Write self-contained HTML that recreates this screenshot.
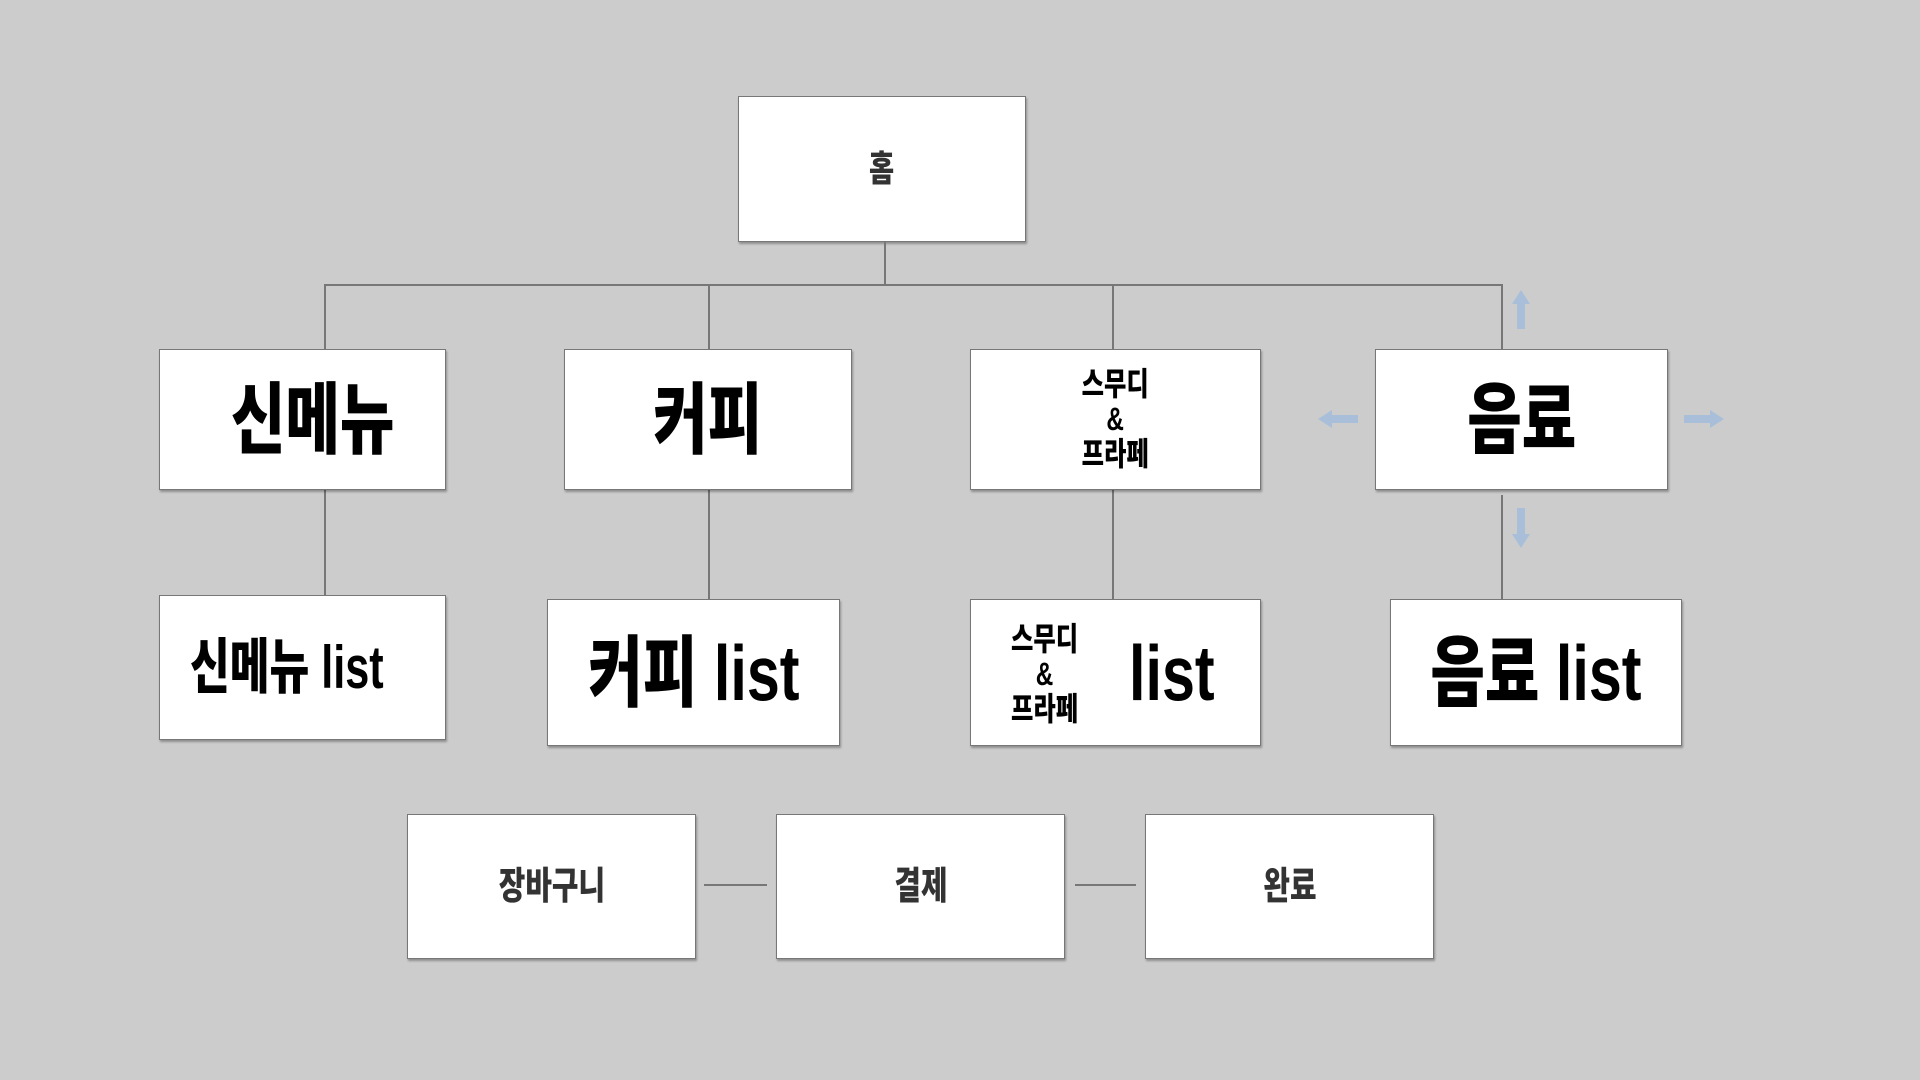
<!DOCTYPE html>
<html><head><meta charset="utf-8"><style>
body{margin:0;width:1920px;height:1080px;background:#cccccc;position:relative;overflow:hidden;font-family:"Liberation Sans","Noto Sans CJK KR","NanumGothic",sans-serif}
.b{position:absolute;background:#fff;border:1px solid #777;box-shadow:1px 2px 2px rgba(0,0,0,.3);box-sizing:border-box;display:flex;align-items:center;justify-content:center;font-weight:900;color:#000}
.l{position:absolute;background:#777}
.t{display:inline-block;transform:scaleX(.76);white-space:nowrap;line-height:1}
</style></head><body>
<div class="b" style="left:738px;top:96px;width:288px;height:146px;font-size:36px;color:#333"><span class="t">홈</span></div>
<div class="l" style="left:884px;top:242px;width:2px;height:43px"></div>
<div class="l" style="left:324px;top:284px;width:1179px;height:2px"></div>
<div class="l" style="left:324px;top:284px;width:2px;height:65px"></div>
<div class="l" style="left:708px;top:284px;width:2px;height:65px"></div>
<div class="l" style="left:1112px;top:284px;width:2px;height:65px"></div>
<div class="l" style="left:1501px;top:284px;width:2px;height:65px"></div>
<div class="l" style="left:324px;top:490px;width:2px;height:105px"></div>
<div class="l" style="left:708px;top:490px;width:2px;height:109px"></div>
<div class="l" style="left:1112px;top:490px;width:2px;height:109px"></div>
<div class="l" style="left:1501px;top:495px;width:2px;height:104px"></div>
<div class="l" style="left:704px;top:884px;width:63px;height:2px"></div>
<div class="l" style="left:1075px;top:884px;width:61px;height:2px"></div>

<div class="b" style="left:159px;top:349px;width:287px;height:141px;font-size:78px;padding-left:20px"><span class="t">신메뉴</span></div>
<div class="b" style="left:564px;top:349px;width:288px;height:141px;font-size:78px"><span class="t">커피</span></div>
<div class="b" style="left:970px;top:349px;width:291px;height:141px;font-size:32px"><span class="t" style="text-align:center;line-height:1.1">스무디<br>&amp;<br>프라페</span></div>
<div class="b" style="left:1375px;top:349px;width:293px;height:141px;font-size:78px"><span class="t">음료</span></div>

<div class="b" style="left:159px;top:595px;width:287px;height:145px;font-size:60px;justify-content:flex-start;padding-left:30px"><span class="t" style="transform-origin:left;transform:scaleX(.72)">신메뉴 list</span></div>
<div class="b" style="left:547px;top:599px;width:293px;height:147px;font-size:78px"><span class="t">커피 list</span></div>
<div class="b" style="left:970px;top:599px;width:291px;height:147px;font-size:78px;justify-content:flex-start"><span class="t" style="position:absolute;left:40px;top:22px;font-size:32px;text-align:center;line-height:1.1;transform-origin:left">스무디<br>&amp;<br>프라페</span><span class="t" style="position:absolute;left:158px;top:34px;transform-origin:left">list</span></div>
<div class="b" style="left:1390px;top:599px;width:292px;height:147px;font-size:78px"><span class="t">음료 list</span></div>

<div class="b" style="left:407px;top:814px;width:289px;height:145px;font-size:38px;color:#333"><span class="t">장바구니</span></div>
<div class="b" style="left:776px;top:814px;width:289px;height:145px;font-size:38px;color:#333"><span class="t">결제</span></div>
<div class="b" style="left:1145px;top:814px;width:289px;height:145px;font-size:38px;color:#333"><span class="t">완료</span></div>

<svg style="position:absolute;left:0;top:0" width="1920" height="1080">
<g fill="#a9bfd9">
<polygon points="1521,290 1530,304 1525,304 1525,329 1517,329 1517,304 1512,304"/>
<polygon points="1521,548 1530,534 1525,534 1525,508 1517,508 1517,534 1512,534"/>
<polygon points="1318,419 1332,410 1332,415 1358,415 1358,423 1332,423 1332,428"/>
<polygon points="1724,419 1710,410 1710,415 1684,415 1684,423 1710,423 1710,428"/>
</g></svg>
</body></html>
